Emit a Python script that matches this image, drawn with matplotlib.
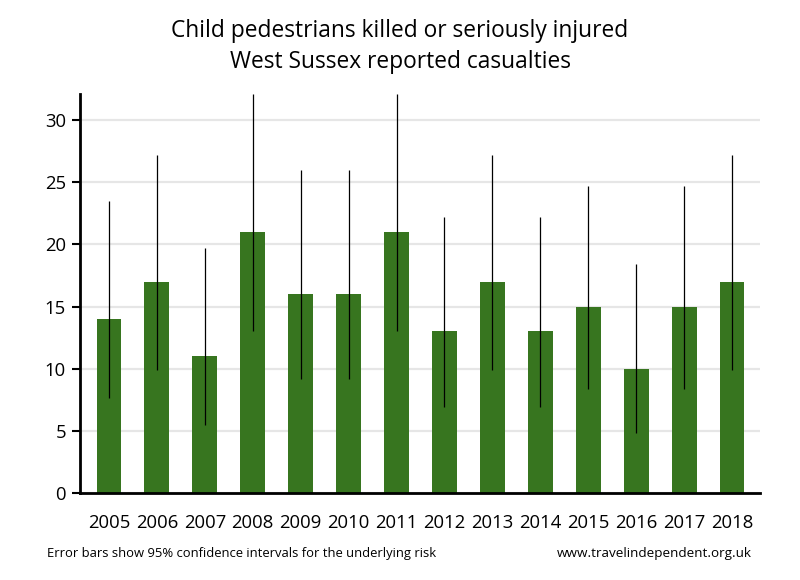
import numpy as np
import matplotlib.pyplot as plt

plt.rcParams['font.family'] = ['Open Sans', 'DejaVu Sans']

years = ['2005', '2006', '2007', '2008', '2009', '2010', '2011',
         '2012', '2013', '2014', '2015', '2016', '2017', '2018']
casualties = [14, 17, 11, 21, 16, 16, 21, 13, 17, 13, 15, 10, 15, 17]
ci_low = [7.65, 9.90, 5.49, 13.0, 9.15, 9.15, 13.0,
          6.92, 9.90, 6.92, 8.40, 4.80, 8.40, 9.90]
ci_high = [23.5, 27.2, 19.7, 32.1, 26.0, 26.0, 32.1,
           22.2, 27.2, 22.2, 24.7, 18.4, 24.7, 27.2]

bar_color = '#37751f'


def main():
    fig = plt.figure(figsize=(8, 5.8), dpi=100)
    ax = fig.add_axes([0.1, 0.15, 0.85, 0.688])

    x = np.arange(len(years))
    vals = np.array(casualties)
    err = [vals - np.array(ci_low), np.array(ci_high) - vals]

    ax.bar(x, vals, width=0.52, color=bar_color, zorder=2)
    ax.errorbar(x, vals, yerr=err, fmt='none', ecolor='black',
                elinewidth=0.9, capsize=0, zorder=3)

    ax.set_xlim(-0.605, 13.584)
    ax.set_ylim(0, 32.1)
    ax.set_yticks([0, 5, 10, 15, 20, 25, 30])
    ax.set_xticks(x)
    ax.set_xticklabels(years)

    ax.yaxis.grid(True, color='#e6e6e6', linewidth=1.6, zorder=0)
    ax.set_axisbelow(True)

    for side in ['top', 'right']:
        ax.spines[side].set_visible(False)
    for side in ['left', 'bottom']:
        ax.spines[side].set_linewidth(2)
        ax.spines[side].set_color('black')

    ax.tick_params(axis='y', length=6, width=1.5, pad=4, labelsize=13.3)
    ax.tick_params(axis='x', length=0, pad=15, labelsize=13.3)

    fig.text(0.5, 0.946, 'Child pedestrians killed or seriously injured',
             ha='center', va='center', fontsize=16.4)
    fig.text(0.5, 0.893, 'West Sussex reported casualties',
             ha='center', va='center', fontsize=16.4)

    fig.text(0.059, 0.046, 'Error bars show 95% confidence intervals for the underlying risk',
             ha='left', va='center', fontsize=9.4)
    fig.text(0.94, 0.046, 'www.travelindependent.org.uk',
             ha='right', va='center', fontsize=9.7)

    fig.savefig('out.png', dpi=100)
    plt.close(fig)


if __name__ == '__main__':
    main()
